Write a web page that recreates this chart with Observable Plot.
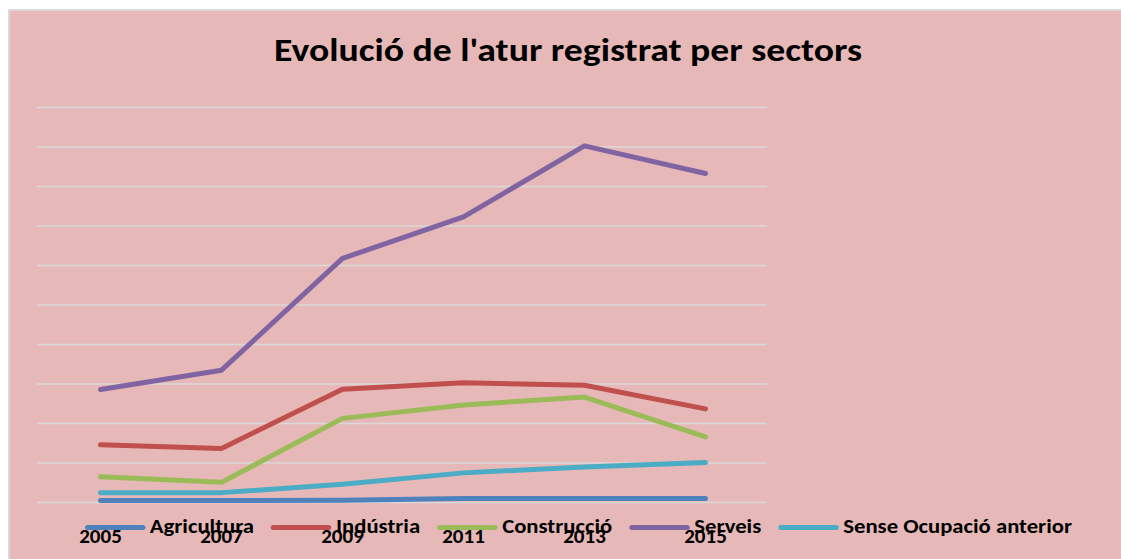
<!DOCTYPE html>
<html>
<head>
<meta charset="utf-8">
<script src="https://cdn.jsdelivr.net/npm/d3@7"></script>
<script src="https://cdn.jsdelivr.net/npm/@observablehq/plot@0.6"></script>
<style>
  html, body { margin: 0; padding: 0; background: #ffffff; overflow: hidden; }
  #page { position: relative; width: 1121px; height: 559px; overflow: hidden; font-family: Carlito, Lato, "Open Sans", sans-serif; }
  #frame { position: absolute; left: 8px; top: 9px; width: 1130px; height: 560px; background: #E6B8B7; border-top: 2px solid #D9D9D9; border-left: 2px solid #D9D9D9; }
  #title { position: absolute; left: 274px; top: 34.6px; font-size: 32px; line-height: 1; font-weight: bold; color: #000; white-space: nowrap; transform-origin: 0 0; }
  #plot { position: absolute; left: 0; top: 0; }
  #legend { position: absolute; left: 85px; top: 516.4px; display: flex; align-items: center; gap: 16px; font-size: 21px; line-height: 1; font-weight: bold; white-space: nowrap; transform-origin: 0 0; }
  .item { display: flex; align-items: center; gap: 4px; }
  .sw { width: 56px; height: 5px; border-radius: 3px; margin-top: 2px; }
</style>
</head>
<body>
<div id="page">
  <div id="frame"></div>
  <div id="plot"></div>
  <div id="title">Evolució de l'atur registrat per sectors</div>
  <div id="legend"></div>
</div>
<script>
// ---- data ----
const years = ["2005", "2007", "2009", "2011", "2013", "2015"];
const sectors = ["Agricultura", "Indústria", "Construcció", "Serveis", "Sense Ocupació anterior"];
const agricultura = [25, 25, 30, 50, 50, 50];
const industria = [730, 685, 1435, 1515, 1485, 1185];
const construccio = [325, 255, 1065, 1235, 1335, 830];
const serveis = [1430, 1675, 3090, 3615, 4515, 4165];
const senseOcupacio = [125, 125, 230, 375, 450, 505];
const gridTicks = [0, 500, 1000, 1500, 2000, 2500, 3000, 3500, 4000, 4500, 5000];
const colors = ["#4F81BD", "#C0504D", "#9BBB59", "#8064A2", "#4BACC6"];

const seriesValues = [agricultura, industria, construccio, serveis, senseOcupacio];
const rows = [];
sectors.forEach((s, i) => years.forEach((y, j) => rows.push({sector: s, year: y, value: seriesValues[i][j]})));

const chart = Plot.plot({
  width: 1121,
  height: 559,
  marginLeft: 37,
  marginRight: 354,
  marginTop: 107,
  marginBottom: 57,
  style: {background: "transparent", fontFamily: "Carlito, Lato, 'Open Sans', sans-serif", fontSize: "21px", fontWeight: "bold", color: "#000"},
  x: {type: "point", domain: years, padding: 0.5, label: null},
  y: {domain: [0, 5000], axis: null},
  color: {domain: sectors, range: colors},
  marks: [
    Plot.ruleY(gridTicks, {stroke: "#D9D9D9", strokeWidth: 1.6, strokeOpacity: 1}),
    Plot.axisX({tickSize: 0, tickPadding: 26, fill: "#000", fontWeight: "bold", label: null}),
    Plot.line(rows, {x: "year", y: "value", z: "sector", stroke: "sector", strokeWidth: 5, strokeLinecap: "round", strokeLinejoin: "round"})
  ]
});
document.getElementById("plot").appendChild(chart);

// legend
const legend = document.getElementById("legend");
sectors.forEach((s, i) => {
  const item = document.createElement("div");
  item.className = "item";
  const sw = document.createElement("span");
  sw.className = "sw";
  sw.style.background = colors[i];
  const t = document.createElement("span");
  t.textContent = s;
  item.appendChild(sw);
  item.appendChild(t);
  legend.appendChild(item);
});

function fitWidth(el, target) {
  const w = el.getBoundingClientRect().width;
  if (w > 0) el.style.transform = `scaleX(${target / w})`;
}
fitWidth(document.getElementById("title"), 588);
fitWidth(legend, 987);
</script>
</body>
</html>
